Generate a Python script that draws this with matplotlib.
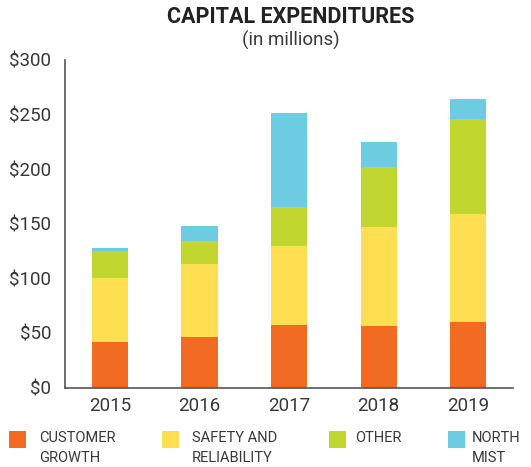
import matplotlib
matplotlib.use("Agg")
import matplotlib.pyplot as plt
from matplotlib.patches import Rectangle
import numpy as np

# data (in $ millions)
years = ["2015", "2016", "2017", "2018", "2019"]
customer_growth = [42, 46, 57, 56, 60]
safety_reliability = [58, 67, 73, 91, 99]
other = [25, 21, 35, 55, 87]
north_mist = [3, 14, 86, 23, 18]

series_names = ["CUSTOMER\nGROWTH", "SAFETY AND\nRELIABILITY", "OTHER", "NORTH\nMIST"]
colors = ["#F26B23", "#FEDF52", "#C1D62F", "#6DCCE1"]

plt.rcParams["font.family"] = ["Roboto", "DejaVu Sans"]
text_color = "#383838"

fig = plt.figure(figsize=(5.31, 4.67), dpi=100)
ax = fig.add_axes([0.123, 0.170, 0.843, 0.702])

x = np.arange(len(years))
bottom = np.zeros(len(years))
for vals, col in zip([customer_growth, safety_reliability, other, north_mist], colors):
    ax.bar(x, vals, width=0.405, bottom=bottom, color=col, linewidth=0)
    bottom += np.array(vals)

ax.set_xlim(-0.5, 4.5)
ax.set_ylim(0, 300)
ax.set_yticks([0, 50, 100, 150, 200, 250, 300])
ax.set_yticklabels(["$" + str(v) for v in [0, 50, 100, 150, 200, 250, 300]])
ax.set_xticks(x)
ax.set_xticklabels(years)
ax.tick_params(length=0, labelsize=13.5, colors=text_color, pad=7)
ax.tick_params(axis="y", pad=10)

for side in ["top", "right"]:
    ax.spines[side].set_visible(False)
for side in ["left", "bottom"]:
    ax.spines[side].set_color("#555555")
    ax.spines[side].set_linewidth(1.2)

fig.text(291 / 531, 1 - 17 / 467, "CAPITAL EXPENDITURES", ha="center", va="center",
         fontsize=15.5, fontweight="bold", color="#222222")
fig.text(291 / 531, 1 - 40 / 467, "(in millions)", ha="center", va="center",
         fontsize=13.5, color=text_color)

# legend drawn by hand along the bottom
box_x = [9, 162, 329, 448]
text_x = [39, 192, 355, 472]
for bx, tx, name, col in zip(box_x, text_x, series_names, colors):
    fig.add_artist(Rectangle((bx / 531, 1 - 448 / 467), 17 / 531, 17 / 467,
                             transform=fig.transFigure, color=col, linewidth=0))
    fig.text(tx / 531, 1 - 431 / 467, name, ha="left", va="top",
             fontsize=10.5, color=text_color, linespacing=1.5)

plt.savefig("out.png", dpi=100)
